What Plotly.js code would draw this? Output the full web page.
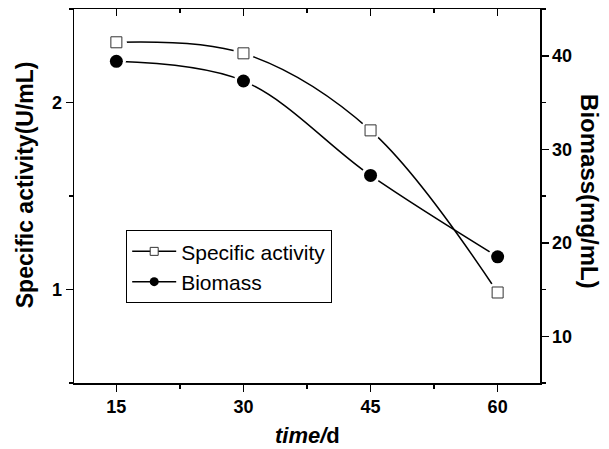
<!DOCTYPE html>
<html>
<head>
<meta charset="utf-8">
<script src="https://cdn.plot.ly/plotly-3.0.1.min.js"></script>
<style>html,body{margin:0;padding:0;background:#fff;}#chart{width:609px;height:449px;}</style>
</head>
<body>
<div id="chart"></div>
<script>
var timeDays = [15, 30, 45, 60];
var specificActivity = [2.322, 2.263, 1.851, 0.984];
var biomass = [39.4, 37.3, 27.2, 18.5];

var FONT = 'Liberation Sans, Arial, sans-serif';
var lineStyle = {color: '#000', width: 1.5, shape: 'spline', smoothing: 1};
var sqMarker = {symbol: 'square', size: 11, color: '#fff', line: {color: '#333', width: 1}};
var ciMarker = {symbol: 'circle', size: 13, color: '#000', line: {width: 0}};

var traces = [
  // curves
  {x: timeDays, y: specificActivity, mode: 'lines', xaxis: 'x', yaxis: 'y', showlegend: false, line: lineStyle},
  {x: timeDays, y: biomass, mode: 'lines', xaxis: 'x', yaxis: 'y2', showlegend: false, line: lineStyle},
  // white halos to leave a gap between curve and marker
  {x: timeDays, y: specificActivity, mode: 'markers', xaxis: 'x', yaxis: 'y', showlegend: false,
   marker: {symbol: 'circle', size: 21, color: '#fff', line: {width: 0}}},
  {x: timeDays, y: biomass, mode: 'markers', xaxis: 'x', yaxis: 'y2', showlegend: false,
   marker: {symbol: 'circle', size: 19, color: '#fff', line: {width: 0}}},
  // markers
  {x: timeDays, y: specificActivity, mode: 'markers', xaxis: 'x', yaxis: 'y', showlegend: false, marker: sqMarker},
  {x: timeDays, y: biomass, mode: 'markers', xaxis: 'x', yaxis: 'y2', showlegend: false, marker: ciMarker},
  // legend entries
  {x: [null], y: [null], name: 'Specific activity', mode: 'lines+markers', xaxis: 'x', yaxis: 'y',
   line: {color: '#000', width: 1.5}, marker: {symbol: 'square', size: 8, color: '#fff', line: {color: '#333', width: 1}}},
  {x: [null], y: [null], name: 'Biomass', mode: 'lines+markers', xaxis: 'x', yaxis: 'y2',
   line: {color: '#000', width: 1.5}, marker: {symbol: 'circle', size: 9, color: '#000', line: {width: 0}}},
  // trace on top axis so it is drawn
  {x: [null], y: [null], xaxis: 'x2', yaxis: 'y', showlegend: false, mode: 'markers'}
];

var tickFont = {family: FONT, size: 18, color: '#000', weight: 'bold'};
var axisBase = {showgrid: false, zeroline: false, showline: true, linecolor: '#000', linewidth: 1.5,
  tickcolor: '#000', tickwidth: 1.5, ticklen: 7, tickfont: tickFont, fixedrange: true};

var layout = {
  width: 609, height: 449,
  margin: {l: 74, r: 69, t: 8.5, b: 66},
  paper_bgcolor: '#fff', plot_bgcolor: '#fff',
  font: {family: FONT, color: '#000'},
  showlegend: true,
  legend: {x: 0.112, y: 0.4085, xanchor: 'left', yanchor: 'top', bgcolor: '#fff', itemwidth: 44,
    bordercolor: '#000', borderwidth: 1, font: {family: FONT, size: 21, color: '#000'}},
  xaxis: Object.assign({}, axisBase, {range: [10, 65], tickmode: 'linear', tick0: 15, dtick: 15, ticks: 'outside',
    minor: {tick0: 15, dtick: 7.5, ticks: 'outside', ticklen: 4, tickcolor: '#000', tickwidth: 1.5}}),
  xaxis2: Object.assign({}, axisBase, {range: [10, 65], overlaying: 'x', side: 'top', tickmode: 'linear', tick0: 15, dtick: 15,
    ticks: 'inside', ticklen: 7, showticklabels: false,
    minor: {tick0: 15, dtick: 7.5, ticks: 'inside', ticklen: 4, tickcolor: '#000', tickwidth: 1.5}}),
  yaxis: Object.assign({}, axisBase, {range: [0.5, 2.5], tickmode: 'linear', tick0: 0, dtick: 1, ticks: 'outside',
    minor: {tick0: 0, dtick: 0.5, ticks: 'outside', ticklen: 4, tickcolor: '#000', tickwidth: 1.5}}),
  yaxis2: Object.assign({}, axisBase, {range: [5, 45], overlaying: 'y', side: 'right', tickmode: 'linear', tick0: 0, dtick: 10,
    ticks: 'outside',
    minor: {tick0: 5, dtick: 10, ticks: 'outside', ticklen: 4, tickcolor: '#000', tickwidth: 1.5}}),
  annotations: [
    {text: '<b>Specific activity(U/mL)</b>', xref: 'paper', yref: 'paper', x: -0.105, y: 0.529,
     xanchor: 'center', yanchor: 'middle', textangle: -90, showarrow: false, font: {family: FONT, size: 23, color: '#000'}},
    {text: '<b>Biomass(mg/mL)</b>', xref: 'paper', yref: 'paper', x: 1.1075, y: 0.513,
     xanchor: 'center', yanchor: 'middle', textangle: 90, showarrow: false, font: {family: FONT, size: 24, color: '#000'}},
    {text: '<b><i>time/</i>d</b>', xref: 'paper', yref: 'paper', x: 0.5, y: -0.1415,
     xanchor: 'center', yanchor: 'middle', showarrow: false, font: {family: FONT, size: 22, color: '#000'}}
  ]
};

Plotly.newPlot('chart', traces, layout, {displayModeBar: false, staticPlot: true});
</script>
</body>
</html>
